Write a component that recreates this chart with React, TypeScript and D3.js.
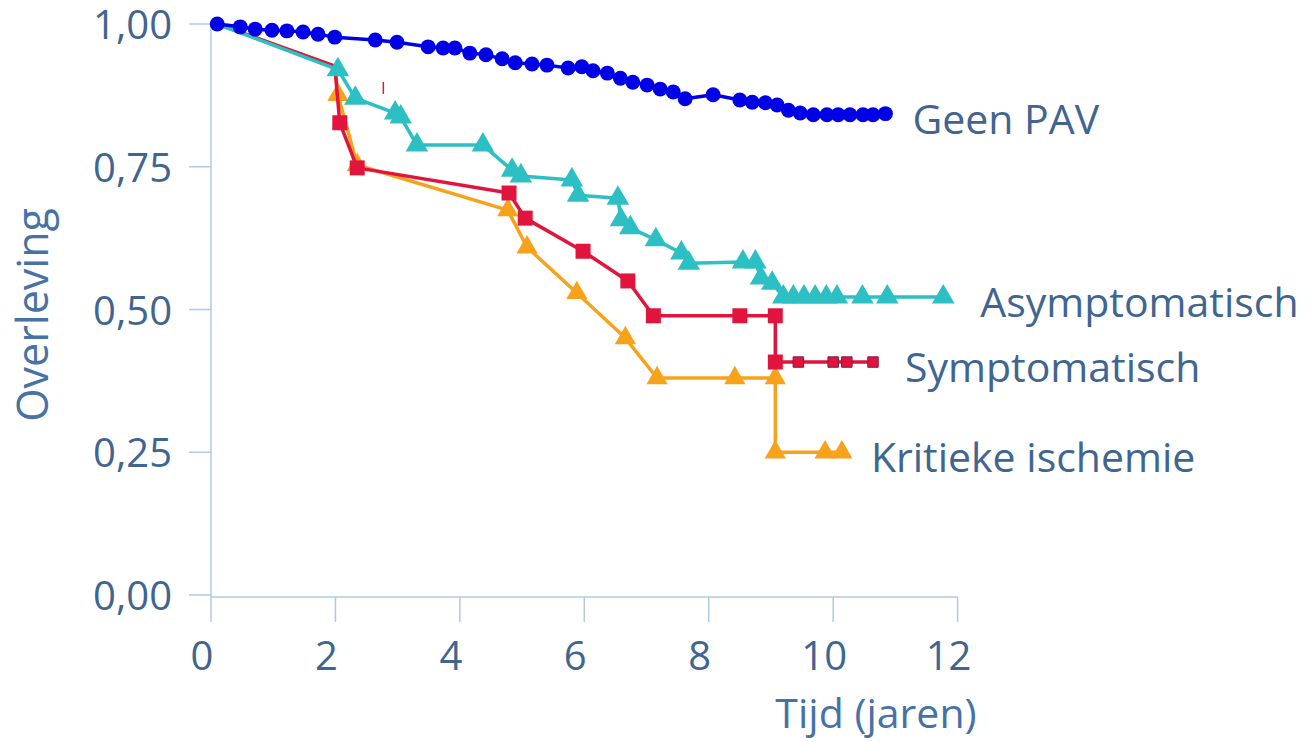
import React from "react";
import * as d3 from "d3";

// ---------- data (tijd in jaren, overleving) ----------
type P = [number, number, number]; // t, s, marker (0 none, 1 normal, 2 small)

const geenPAV: P[] = [
  [0.1, 1.0, 1], [0.47, 0.995, 1], [0.71, 0.991, 1], [0.98, 0.989, 1], [1.22, 0.988, 1],
  [1.48, 0.986, 1], [1.72, 0.982, 1], [1.99, 0.977, 1], [2.64, 0.972, 1], [2.99, 0.968, 1],
  [3.49, 0.96, 1], [3.73, 0.958, 1], [3.92, 0.958, 1], [4.16, 0.949, 1], [4.42, 0.946, 1],
  [4.68, 0.939, 1], [4.89, 0.932, 1], [5.16, 0.93, 1], [5.4, 0.928, 1], [5.74, 0.923, 1],
  [5.96, 0.925, 1], [6.14, 0.918, 1], [6.37, 0.914, 1], [6.58, 0.905, 1], [6.78, 0.898, 1],
  [7.01, 0.893, 1], [7.22, 0.886, 1], [7.43, 0.881, 1], [7.62, 0.869, 1], [8.07, 0.876, 1],
  [8.5, 0.867, 1], [8.7, 0.863, 1], [8.91, 0.862, 1], [9.1, 0.858, 1], [9.28, 0.849, 1],
  [9.47, 0.844, 1], [9.68, 0.841, 1], [9.9, 0.841, 1], [10.08, 0.841, 1], [10.27, 0.841, 1],
  [10.48, 0.841, 1], [10.64, 0.841, 1], [10.84, 0.843, 1],
];

const asymptomatisch: P[] = [
  [0.1, 1.0, 0], [2.04, 0.92, 1], [2.32, 0.87, 1], [2.96, 0.844, 1], [3.05, 0.837, 1],
  [3.31, 0.788, 1], [4.37, 0.788, 1], [4.84, 0.744, 1], [4.98, 0.734, 1], [5.8, 0.727, 1],
  [5.9, 0.7, 1], [6.54, 0.695, 1], [6.59, 0.657, 1], [6.74, 0.643, 1], [7.15, 0.622, 1],
  [7.56, 0.599, 1], [7.68, 0.581, 1], [8.55, 0.583, 1], [8.75, 0.583, 1], [8.84, 0.555, 1],
  [9.02, 0.546, 1], [9.2, 0.522, 1], [9.36, 0.522, 1], [9.53, 0.522, 1], [9.71, 0.522, 1],
  [9.89, 0.522, 1], [10.06, 0.522, 1], [10.47, 0.522, 1], [10.87, 0.522, 1], [11.77, 0.522, 1],
];

const symptomatisch: P[] = [
  [0.1, 1.0, 0], [1.99, 0.926, 0], [2.07, 0.827, 1], [2.35, 0.748, 1], [4.79, 0.704, 1],
  [5.05, 0.66, 1], [5.98, 0.602, 1], [6.7, 0.55, 1], [7.11, 0.489, 1], [8.5, 0.489, 1],
  [9.07, 0.489, 1], [9.07, 0.408, 1], [9.44, 0.408, 2], [10.0, 0.408, 2], [10.22, 0.408, 2],
  [10.64, 0.408, 2],
];
const symptomatischCensor: [number, number][] = [[2.77, 0.888]];

const kritiekeIschemie: P[] = [
  [0.1, 1.0, 0], [1.99, 0.926, 0], [2.04, 0.876, 1], [2.35, 0.753, 1], [4.77, 0.674, 1],
  [5.08, 0.609, 1], [5.88, 0.529, 1], [6.66, 0.45, 1], [7.17, 0.38, 1], [8.42, 0.38, 1],
  [9.07, 0.38, 1], [9.07, 0.25, 1], [9.87, 0.25, 1], [10.14, 0.25, 1],
];

const xTicks = [0, 2, 4, 6, 8, 10, 12];
const yTicks = [0, 0.25, 0.5, 0.75, 1];
const xTitle = "Tijd (jaren)";
const yTitle = "Overleving";

const series = [
  { name: "Kritieke ischemie", data: kritiekeIschemie, color: "#f7a21b", marker: "triangle", dx: 29 },
  { name: "Symptomatisch", data: symptomatisch, color: "#e0143c", marker: "square", dx: 32 },
  { name: "Asymptomatisch", data: asymptomatisch, color: "#2cbfc4", marker: "triangle", dx: 37 },
  { name: "Geen PAV", data: geenPAV, color: "#0000e6", marker: "circle", dx: 27 },
];

const FONT = "'Open Sans', 'DejaVu Sans', sans-serif";
const TEXT = "#3f6590";
const TITLE = "#4672a4";
const AXIS = "#b3c8e6";

const nl = d3.formatLocale({ decimal: ",", thousands: ".", grouping: [3], currency: ["€", ""] });
const fmt = nl.format(".2f");

export default function App() {
  const W = 1314, H = 742;
  const x = d3.scaleLinear().domain([0, 12]).range([211, 957.6]);
  const y = d3.scaleLinear().domain([0, 1]).range([595, 24]);
  const line = d3.line<P>().x((d) => x(d[0])).y((d) => y(d[1]));

  const sym = (kind: string, small: boolean, color: string) => {
    if (kind === "circle") return d3.symbol(d3.symbolCircle, 175)()!;
    if (kind === "square") return d3.symbol(d3.symbolSquare, small ? 110 : 225)()!;
    return d3.symbol(d3.symbolTriangle, color === "#2cbfc4" ? 220 : 195)()!;
  };

  return (
    <svg width={W} height={H} style={{ position: "absolute", left: 0, top: 0, background: "#fff" }}>
      {/* axes */}
      <line x1={x(0)} x2={x(0)} y1={22} y2={597} stroke={AXIS} strokeWidth={1.5} />
      <line x1={x(0)} x2={x(12)} y1={597} y2={597} stroke={AXIS} strokeWidth={1.5} />
      {yTicks.map((v) => (
        <g key={"y" + v}>
          <line x1={189} x2={x(0)} y1={y(v)} y2={y(v)} stroke={AXIS} strokeWidth={1.5} />
          <text x={172} y={y(v) + 15} textAnchor="end" fontFamily={FONT} fontSize={40} fill={TEXT}>
            {fmt(v)}
          </text>
        </g>
      ))}
      {xTicks.map((v) => (
        <g key={"x" + v}>
          <line x1={x(v)} x2={x(v)} y1={597} y2={622} stroke={AXIS} strokeWidth={1.5} />
          <text x={x(v) - 9} y={670} textAnchor="middle" fontFamily={FONT} fontSize={40} fill={TEXT}>
            {v}
          </text>
        </g>
      ))}
      <text
        transform={`translate(48, 315) rotate(-90)`}
        textAnchor="middle"
        fontFamily={FONT}
        fontSize={43}
        fill={TITLE}
      >
        {yTitle}
      </text>
      <text x={876} y={728} textAnchor="middle" fontFamily={FONT} fontSize={41} fill={TITLE}>
        {xTitle}
      </text>

      {/* censor tick */}
      {symptomatischCensor.map((d, i) => (
        <line key={"c" + i} x1={x(d[0])} x2={x(d[0])} y1={y(d[1]) - 6} y2={y(d[1]) + 6} stroke="#e0143c" strokeWidth={1.5} />
      ))}

      {/* series */}
      {series.map((s) => {
        const last = s.data[s.data.length - 1];
        return (
          <g key={s.name}>
            <path d={line(s.data)!} fill="none" stroke={s.color} strokeWidth={3.5} strokeLinejoin="round" />
            {s.data
              .filter((d) => d[2] > 0)
              .map((d, i) => (
                <path
                  key={i}
                  transform={`translate(${x(d[0])},${y(d[1])})`}
                  d={sym(s.marker, d[2] === 2, s.color)}
                  fill={s.color}
                  stroke={d[2] === 2 ? "#7a2050" : "none"}
                  strokeWidth={1}
                />
              ))}
            <text
              x={x(last[0]) + s.dx}
              y={y(last[1]) + 20}
              fontFamily={FONT}
              fontSize={41}
              fill={TEXT}
            >
              {s.name}
            </text>
          </g>
        );
      })}
    </svg>
  );
}
